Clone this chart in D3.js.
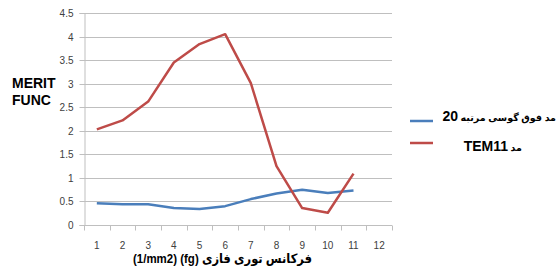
<!DOCTYPE html>
<html>
<head>
<meta charset="utf-8">
<script src="https://cdn.jsdelivr.net/npm/d3@7"></script>
<style>
  body { margin: 0; background: #fff; }
  svg { font-family: Arial, "Liberation Sans", "DejaVu Sans", sans-serif; }
</style>
</head>
<body>
<div id="chart"></div>
<script>
var categories = ['1','2','3','4','5','6','7','8','9','10','11','12'];
var superGaussValues = [0.46, 0.44, 0.44, 0.36, 0.34, 0.40, 0.55, 0.67, 0.75, 0.68, 0.73];
var tem11Values = [2.03, 2.22, 2.62, 3.45, 3.84, 4.05, 3.01, 1.25, 0.36, 0.26, 1.09];
var yTicks = [0, 0.5, 1, 1.5, 2, 2.5, 3, 3.5, 4, 4.5];
// each legend name split into its persian and latin part
var seriesNames = [['مد فوق گوسی مرتبه ', '20'], ['مد ', 'TEM11']];
var seriesColors = ['#4a7ebb', '#be4b48'];

var chartW = 560, chartH = 270;
var plotLeft = 84, plotRight = 392, plotTop = 13, plotBottom = 225;

var svg = d3.select('#chart').append('svg')
    .attr('width', chartW)
    .attr('height', chartH);

var x = d3.scaleBand().domain(categories).range([plotLeft, plotRight]);
var y = d3.scaleLinear().domain([0, 4.5]).range([plotBottom, plotTop]);

// gridlines
svg.append('g').selectAll('line')
    .data(yTicks.slice(1))
    .enter().append('line')
    .attr('x1', plotLeft).attr('x2', plotRight)
    .attr('y1', d => Math.round(y(d)) + 0.5)
    .attr('y2', d => Math.round(y(d)) + 0.5)
    .style('stroke', '#bfbfbf')
    .style('stroke-width', 1);

// y axis
var yAxis = d3.axisLeft(y).tickValues(yTicks).tickSize(5).tickPadding(6)
    .tickFormat(d => d3.format('')(d));
var yg = svg.append('g').attr('transform', 'translate(' + (plotLeft + 0.5) + ',0)').call(yAxis);
yg.select('.domain').style('stroke', '#bfbfbf');
yg.selectAll('.tick').attr('transform', d => 'translate(0,' + (Math.round(y(d)) + 0.5) + ')');
yg.selectAll('.tick line').style('stroke', '#bfbfbf');
yg.selectAll('.tick text').style('font-size', '10px').style('fill', '#404040')
    .style('font-family', 'Arial, "Liberation Sans", sans-serif');

// x axis with ticks between categories
var xg = svg.append('g').attr('transform', 'translate(0,' + (Math.round(plotBottom) + 0.5) + ')');
xg.append('line').attr('x1', plotLeft).attr('x2', plotRight).style('stroke', '#bfbfbf');
xg.selectAll('.xtick')
    .data(categories.concat(['end']))
    .enter().append('line')
    .attr('x1', (d, i) => Math.round(plotLeft + i * x.bandwidth()) + 0.5)
    .attr('x2', (d, i) => Math.round(plotLeft + i * x.bandwidth()) + 0.5)
    .attr('y1', 0).attr('y2', 5)
    .style('stroke', '#bfbfbf');
xg.selectAll('.xlabel')
    .data(categories)
    .enter().append('text')
    .attr('x', d => x(d) + x.bandwidth() / 2)
    .attr('y', 23)
    .style('text-anchor', 'middle')
    .style('font-size', '10px')
    .style('fill', '#404040')
    .text(d => d);

// lines
var line = d3.line()
    .x((d, i) => x(categories[i]) + x.bandwidth() / 2)
    .y(d => y(d));

[superGaussValues, tem11Values].forEach(function(vals, k) {
    svg.append('path')
        .datum(vals)
        .attr('d', line)
        .style('fill', 'none')
        .style('stroke', seriesColors[k])
        .style('stroke-width', 2.5)
        .style('stroke-linejoin', 'round');
});

// y title
svg.append('text')
    .attr('x', 12).attr('y', 88)
    .style('font-size', '14px').style('font-weight', 'bold')
    .text('MERIT');
svg.append('text')
    .attr('x', 12).attr('y', 105)
    .style('font-size', '14px').style('font-weight', 'bold')
    .text('FUNC');

// x title
svg.append('text')
    .attr('x', 312).attr('y', 263)
    .attr('direction', 'rtl')
    .attr('textLength', 179)
    .attr('lengthAdjust', 'spacingAndGlyphs')
    .style('text-anchor', 'start')
    .style('font-size', '13px').style('font-weight', 'bold')
    .text('فرکانس توری فازی (fg) (1/mm2)');

// legend (RLE ... PDF keeps the right-to-left order)
var legendY = [121, 143];
var legendTextX = [556, 522];
seriesNames.forEach(function(name, k) {
    svg.append('line')
        .attr('x1', 410).attr('x2', 433)
        .attr('y1', legendY[k]).attr('y2', legendY[k])
        .style('stroke', seriesColors[k])
        .style('stroke-width', 2.5);
    var t = svg.append('text')
        .attr('x', legendTextX[k])
        .attr('y', legendY[k] + (k === 0 ? 0 : 8))
        .style('text-anchor', 'end')
        .style('font-weight', 'bold');
    t.append('tspan').style('font-size', '9.5px').text('\u202B' + name[0]);
    t.append('tspan').style('font-size', '14px').text(name[1] + '\u202C');
});
</script>
</body>
</html>
